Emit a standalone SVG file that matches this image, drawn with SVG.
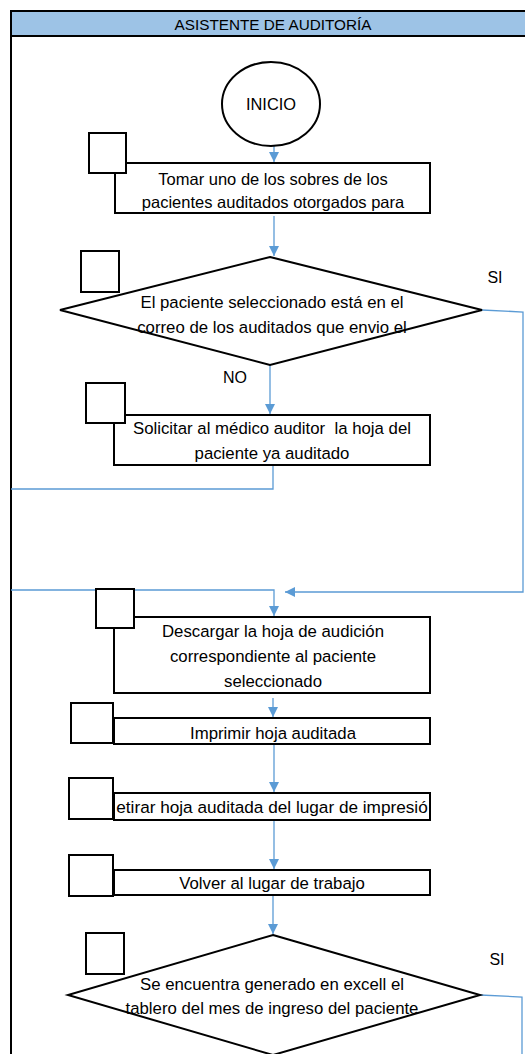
<svg xmlns="http://www.w3.org/2000/svg" width="525" height="1054" viewBox="0 0 525 1054">
<style>
.shape{fill:#fff;stroke:#000;stroke-width:2}
.box{fill:#fff;stroke:#000;stroke-width:2}
.t{font-family:"Liberation Sans",Arial,sans-serif;font-size:16.8px;fill:#000;text-anchor:middle}
.lbl{font-family:"Liberation Sans",Arial,sans-serif;font-size:16px;fill:#000;text-anchor:middle}
.conn{fill:none;stroke:#5B9BD5;stroke-width:1.3}
</style>
<defs>
<marker id="ah" markerWidth="12" markerHeight="12" refX="10" refY="6" orient="auto" markerUnits="userSpaceOnUse">
<path d="M0,1 L10,6 L0,11 Z" fill="#5B9BD5"/>
</marker>
</defs>
<rect width="525" height="1054" fill="#fff"/>
<g id="lane">
<rect x="11" y="11" width="520" height="25" fill="#9DC3E6"/>
<line x1="11" y1="11" x2="525" y2="11" stroke="#000" stroke-width="2"/>
<line x1="11" y1="36" x2="525" y2="36" stroke="#000" stroke-width="2"/>
<line x1="11" y1="10" x2="11" y2="1054" stroke="#000" stroke-width="2"/>
<text x="273" y="29.5" class="lbl" style="font-size:15.3px">ASISTENTE DE AUDITORÍA</text>
</g>
<g id="connectors">
<path class="conn" d="M274,146 V162" marker-end="url(#ah)"/>
<path class="conn" d="M274,216 V256" marker-end="url(#ah)"/>
<path class="conn" d="M482,310 L523,312 V592 H285" marker-end="url(#ah)"/>
<path class="conn" d="M270,365 V414" marker-end="url(#ah)"/>
<path class="conn" d="M273,465 V489 H11"/>
<path class="conn" d="M11,590 H274 V616" marker-end="url(#ah)"/>
<path class="conn" d="M273,698 V717" marker-end="url(#ah)"/>
<path class="conn" d="M274,744 V792" marker-end="url(#ah)"/>
<path class="conn" d="M274,820 V869" marker-end="url(#ah)"/>
<path class="conn" d="M273,895 V934" marker-end="url(#ah)"/>
<path class="conn" d="M480,995 L522,997 V1054"/>
</g>
<g id="inicio">
<ellipse cx="271" cy="104" rx="49" ry="42" class="shape"/>
<text x="271" y="110" class="lbl" style="font-size:16.4px">INICIO</text>
</g>
<g id="n1">
<rect x="115" y="163" width="315" height="50" class="box"/>
<rect x="89" y="133" width="37" height="40" class="box"/>
<text x="273" y="185" class="t" style="font-size:16.5px">Tomar uno de los sobres de los</text>
<text x="273" y="208" class="t" style="font-size:16.5px">pacientes auditados otorgados para</text>
</g>
<g id="d1">
<polygon points="270,257 482,310 270,365 60,310" class="shape"/>
<rect x="81" y="251" width="38" height="41" class="box"/>
<text x="272" y="308" class="t">El paciente seleccionado está en el</text>
<text x="272" y="333" class="t">correo de los auditados que envio el</text>
<text x="495" y="283" class="lbl">SI</text>
<text x="235" y="383" class="lbl">NO</text>
</g>
<g id="n2">
<rect x="114" y="415" width="316" height="50" class="box"/>
<rect x="86" y="383" width="39" height="40" class="box"/>
<text x="272" y="434" class="t">Solicitar al médico auditor &#160;la hoja del</text>
<text x="272" y="459" class="t">paciente ya auditado</text>
</g>
<g id="n3">
<rect x="114" y="617" width="316" height="76" class="box"/>
<rect x="96" y="589" width="38" height="39" class="box"/>
<text x="273" y="637" class="t">Descargar la hoja de audición</text>
<text x="273" y="662" class="t">correspondiente al paciente</text>
<text x="273" y="687" class="t">seleccionado</text>
</g>
<g id="n4">
<rect x="114" y="718" width="316" height="26" class="box"/>
<rect x="71" y="703" width="42" height="40" class="box"/>
<text x="273" y="739" class="t">Imprimir hoja auditada</text>
</g>
<g id="n5">
<rect x="114" y="793" width="316" height="27" class="box"/>
<text x="272" y="813" class="t" style="font-size:17.2px">etirar hoja auditada del lugar de impresió</text>
<rect x="69" y="778" width="44" height="41" class="box"/>
</g>
<g id="n6">
<rect x="114" y="870" width="316" height="25" class="box"/>
<rect x="69" y="855" width="44" height="41" class="box"/>
<text x="272" y="889" class="t">Volver al lugar de trabajo</text>
</g>
<g id="d2">
<polygon points="273,935 480,995 273,1055 68,995" class="shape"/>
<rect x="86" y="933" width="38" height="41" class="box"/>
<text x="272" y="990" class="t">Se encuentra generado en excell el</text>
<text x="272" y="1014" class="t">tablero del mes de ingreso del paciente</text>
<text x="497" y="965" class="lbl">SI</text>
</g>
</svg>
